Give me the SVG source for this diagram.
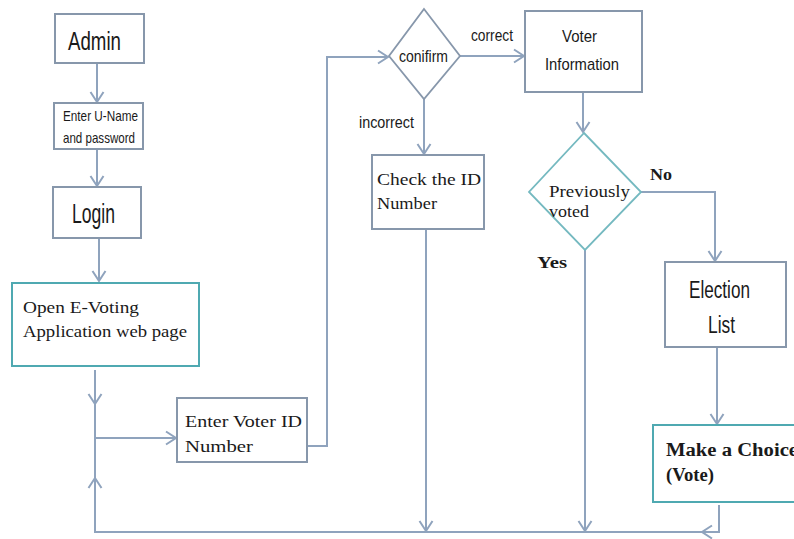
<svg xmlns="http://www.w3.org/2000/svg" width="794" height="539" viewBox="0 0 794 539">
  <style>
    .box { fill: #ffffff; stroke: #8797ab; stroke-width: 2; }
    .teal { fill: #ffffff; stroke: #4fa9b1; stroke-width: 2; }
    .dia { fill: #ffffff; stroke: #8797ab; stroke-width: 1.8; }
    .dia2 { fill: #ffffff; stroke: #74b9c0; stroke-width: 1.8; }
    .sans { font-family: "Liberation Sans Narrow", "Liberation Sans", sans-serif; fill: #1a1a1a; }
    .serif { font-family: "Liberation Serif", serif; fill: #1a1a1a; }
    .bold { font-weight: bold; }
    .conn path { fill: none; stroke: #8fa3bd; stroke-width: 2; }
  </style>
  <defs>
    <marker id="arrow" markerUnits="userSpaceOnUse" markerWidth="16" markerHeight="16" viewBox="0 0 16 16" refX="13" refY="8" orient="auto">
      <path d="M3,1.5 L13,8 L3,14.5" fill="none" stroke="#8fa3bd" stroke-width="2"/>
    </marker>
  </defs>

  <rect width="794" height="539" fill="#ffffff"/>

  <!-- connectors -->
  <g id="connectors" class="conn">
    <path d="M97,63 V102" marker-end="url(#arrow)"/>
    <path d="M97,149 V186" marker-end="url(#arrow)"/>
    <path d="M99,238 V281" marker-end="url(#arrow)"/>
    <path d="M95,370 V404" marker-end="url(#arrow)"/>
    <path d="M95,404 V532"/>
    <path d="M95,438 H176" marker-end="url(#arrow)"/>
    <path d="M307,446 H327 V57 H388" marker-end="url(#arrow)"/>
    <path d="M460,56 H524" marker-end="url(#arrow)"/>
    <path d="M424,99 V154" marker-end="url(#arrow)"/>
    <path d="M426,229 V531" marker-end="url(#arrow)"/>
    <path d="M583,92 V132" marker-end="url(#arrow)"/>
    <path d="M641,192 H715 V261" marker-end="url(#arrow)"/>
    <path d="M585,250 V531" marker-end="url(#arrow)"/>
    <path d="M717,347 V424" marker-end="url(#arrow)"/>
    <path d="M719,505 V532 H702" marker-end="url(#arrow)"/>
    <path d="M702,532 H95 V478" marker-end="url(#arrow)"/>
  </g>

  <g id="admin">
    <rect class="box" x="55" y="14" width="89" height="49"/>
    <text class="sans" x="68" y="50" font-size="25" textLength="53" lengthAdjust="spacingAndGlyphs">Admin</text>
  </g>

  <g id="credentials">
    <rect class="box" x="54" y="103" width="89" height="46"/>
    <text class="sans" x="63" y="121" font-size="15" textLength="75" lengthAdjust="spacingAndGlyphs">Enter U-Name</text>
    <text class="sans" x="63" y="143" font-size="15" textLength="72" lengthAdjust="spacingAndGlyphs">and password</text>
  </g>

  <g id="login">
    <rect class="box" x="53" y="187" width="88" height="51"/>
    <text class="sans" x="72" y="223" font-size="27" textLength="43" lengthAdjust="spacingAndGlyphs">Login</text>
  </g>

  <g id="open-page">
    <rect class="teal" x="12" y="283" width="187" height="83"/>
    <text class="serif" x="23" y="313" font-size="17" textLength="116" lengthAdjust="spacingAndGlyphs">Open E-Voting</text>
    <text class="serif" x="23" y="337" font-size="17" textLength="164" lengthAdjust="spacingAndGlyphs">Application web page</text>
  </g>

  <g id="enter-voter-id">
    <rect class="box" x="177" y="398" width="130" height="64"/>
    <text class="serif" x="185" y="427" font-size="17" textLength="117" lengthAdjust="spacingAndGlyphs">Enter Voter ID</text>
    <text class="serif" x="185" y="452" font-size="17" textLength="68" lengthAdjust="spacingAndGlyphs">Number</text>
  </g>

  <g id="confirm">
    <polygon class="dia" points="424,9 460,56 424,99 389,56"/>
    <text class="sans" x="399" y="62" font-size="16" textLength="49" lengthAdjust="spacingAndGlyphs">conifirm</text>
    <text class="sans" x="471" y="41" font-size="16" textLength="42" lengthAdjust="spacingAndGlyphs">correct</text>
    <text class="sans" x="359" y="128" font-size="16" textLength="55" lengthAdjust="spacingAndGlyphs">incorrect</text>
  </g>

  <g id="check-id">
    <rect class="box" x="372" y="155" width="112" height="74"/>
    <text class="serif" x="377" y="185" font-size="17" textLength="104" lengthAdjust="spacingAndGlyphs">Check the ID</text>
    <text class="serif" x="377" y="209" font-size="17" textLength="60" lengthAdjust="spacingAndGlyphs">Number</text>
  </g>

  <g id="voter-info">
    <rect class="box" x="525" y="11" width="117" height="81"/>
    <text class="sans" x="562" y="42" font-size="17" textLength="35" lengthAdjust="spacingAndGlyphs">Voter</text>
    <text class="sans" x="545" y="70" font-size="17" textLength="74" lengthAdjust="spacingAndGlyphs">Information</text>
  </g>

  <g id="previously-voted">
    <polygon class="dia2" points="584,133 641,192 585,250 529,192"/>
    <text class="serif" x="549" y="197" font-size="16" textLength="81" lengthAdjust="spacingAndGlyphs">Previously</text>
    <text class="serif" x="549" y="217" font-size="16" textLength="40" lengthAdjust="spacingAndGlyphs">voted</text>
    <text class="serif bold" x="650" y="180" font-size="16" textLength="22" lengthAdjust="spacingAndGlyphs">No</text>
    <text class="serif bold" x="537" y="268" font-size="16" textLength="30" lengthAdjust="spacingAndGlyphs">Yes</text>
  </g>

  <g id="election-list">
    <rect class="box" x="665" y="262" width="121" height="85"/>
    <text class="sans" x="689" y="298" font-size="23" textLength="61" lengthAdjust="spacingAndGlyphs">Election</text>
    <text class="sans" x="708" y="333" font-size="23" textLength="27" lengthAdjust="spacingAndGlyphs">List</text>
  </g>

  <g id="make-choice">
    <rect class="teal" x="653" y="425" width="150" height="77"/>
    <text class="serif bold" x="666" y="456" font-size="18" textLength="132" lengthAdjust="spacingAndGlyphs">Make a Choice</text>
    <text class="serif bold" x="666" y="481" font-size="18" textLength="48" lengthAdjust="spacingAndGlyphs">(Vote)</text>
  </g>
</svg>
